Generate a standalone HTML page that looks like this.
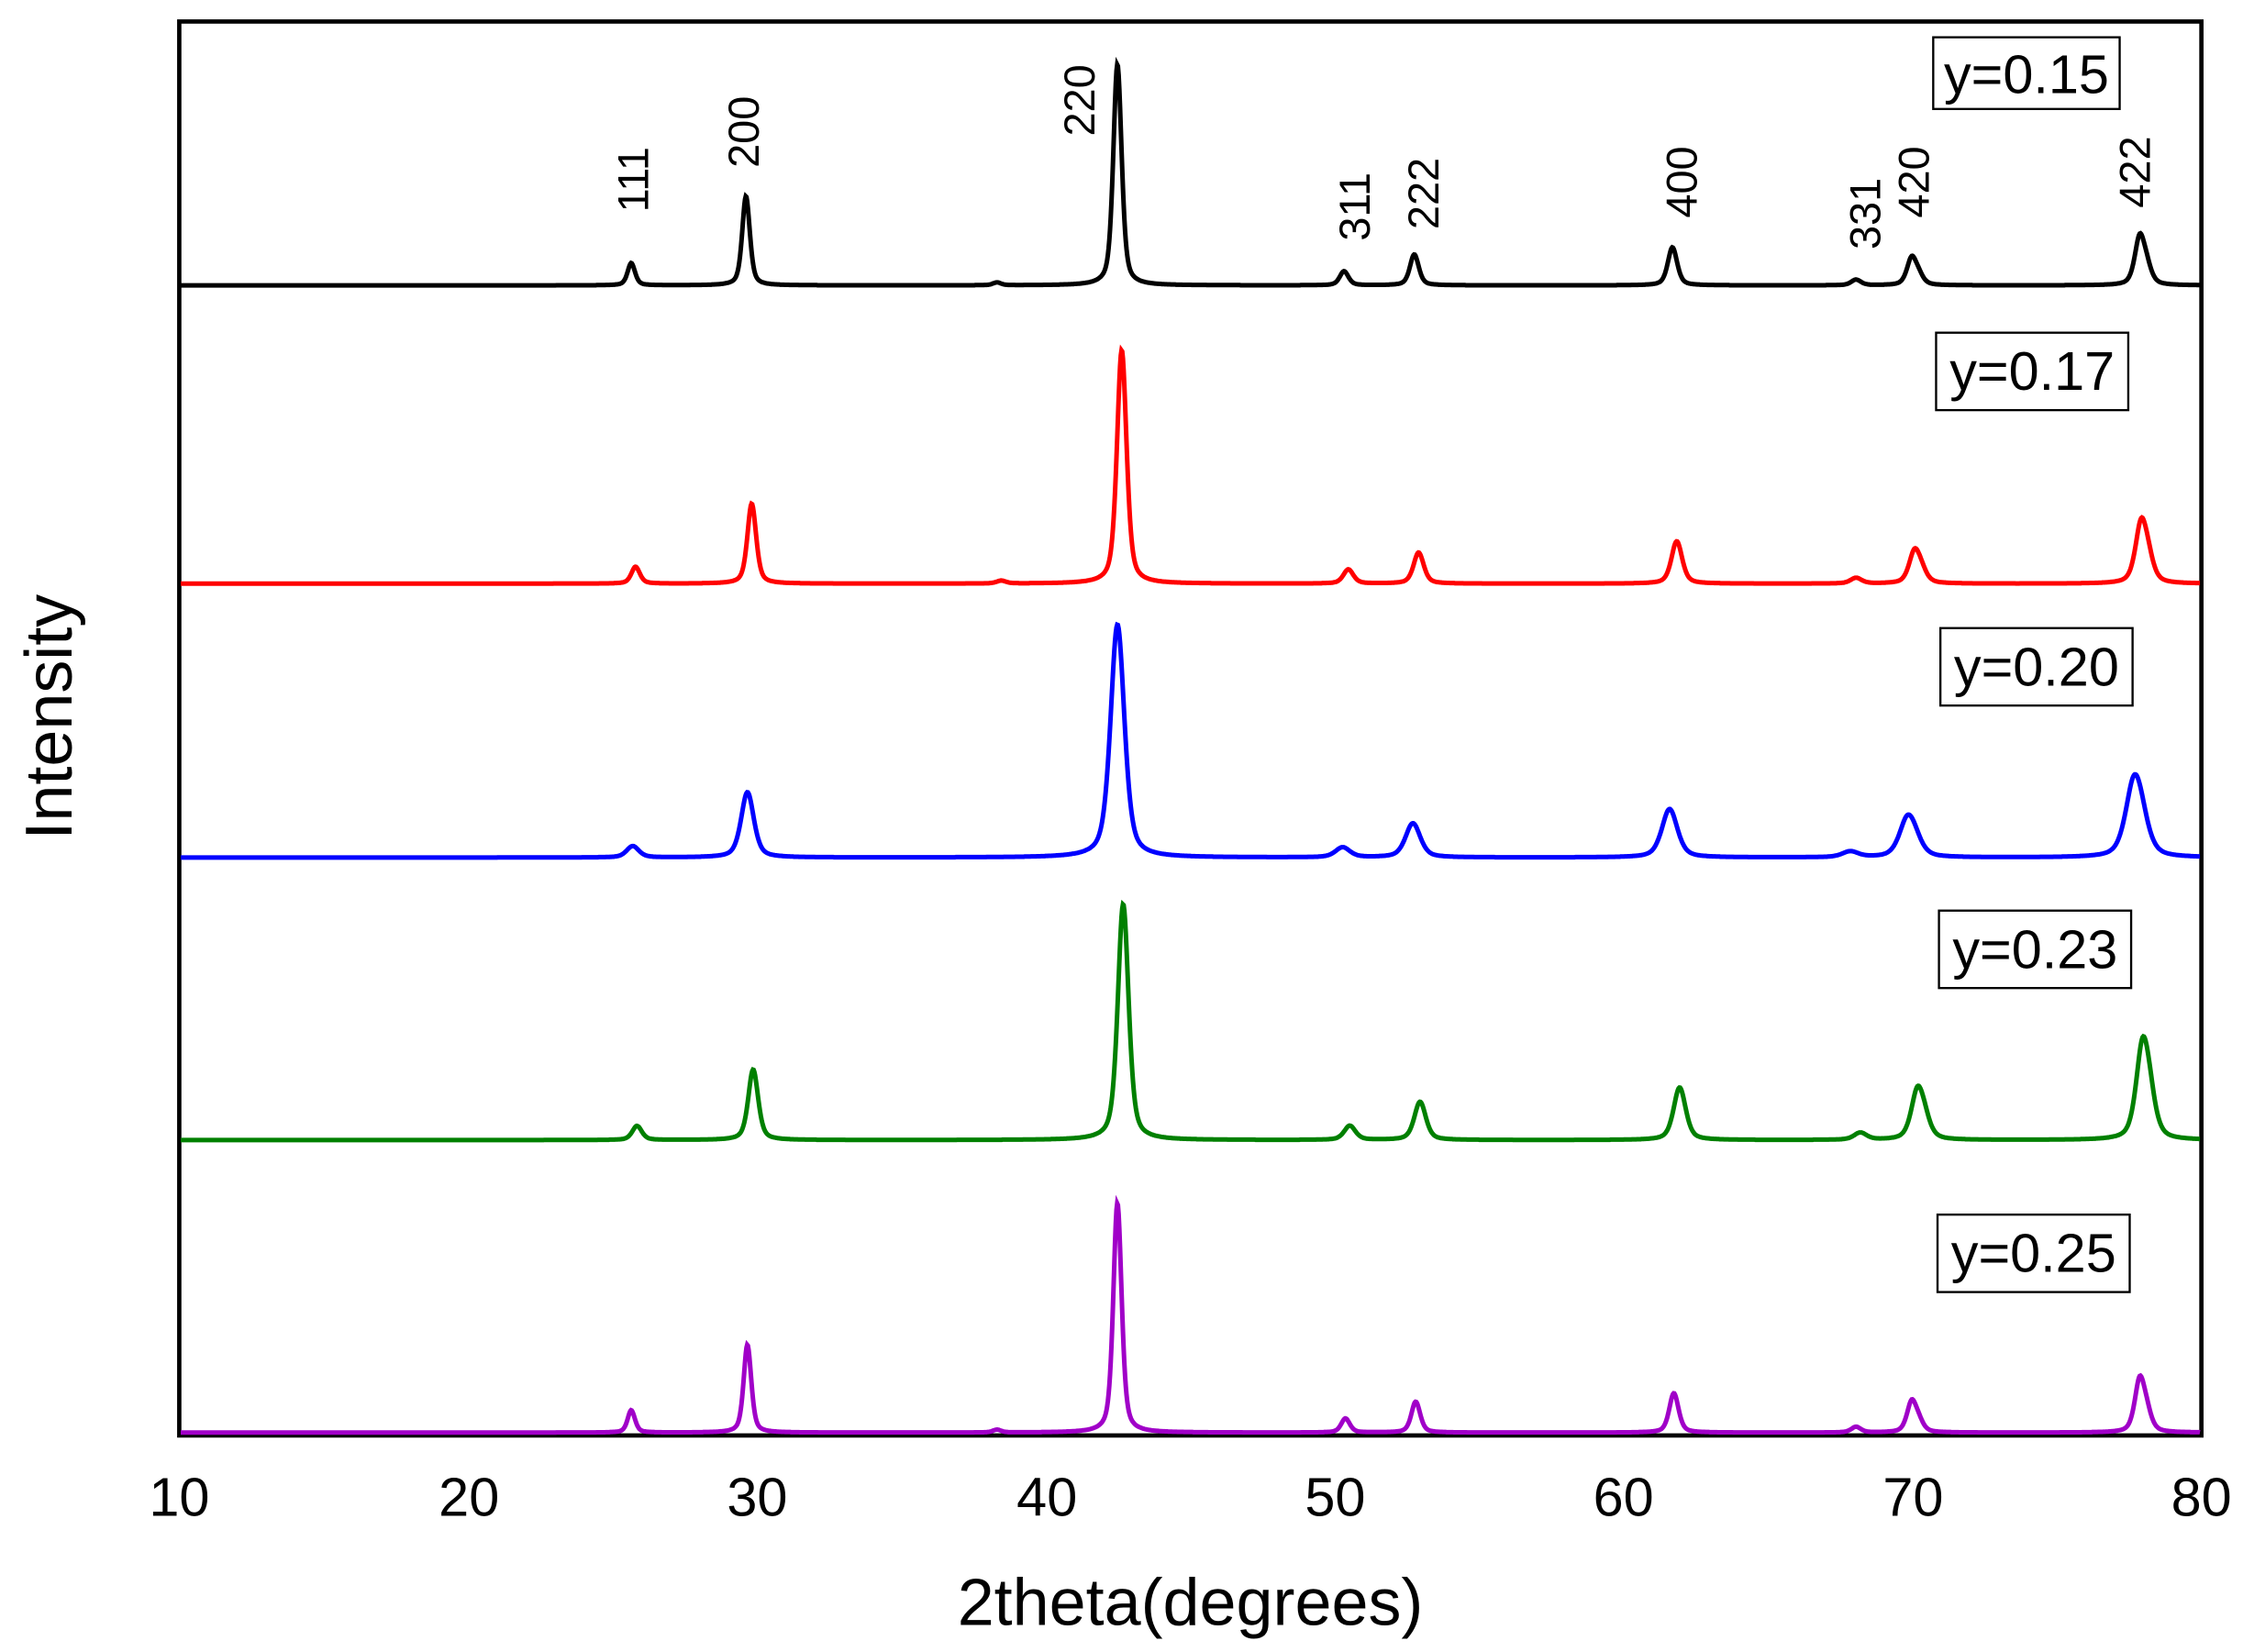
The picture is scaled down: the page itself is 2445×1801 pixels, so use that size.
<!DOCTYPE html>
<html><head><meta charset="utf-8"><style>
html,body{margin:0;padding:0;background:#fff}
svg{display:block}
text{font-family:"Liberation Sans",Arial,sans-serif}
</style></head><body>
<svg id="s" width="2445" height="1801" viewBox="0 0 1564 1152" preserveAspectRatio="none" xmlns="http://www.w3.org/2000/svg">
<rect x="125" y="15" width="1410" height="986" fill="none" stroke="#000" stroke-width="3"/>
<g id="series"></g>
<g font-size="38" text-anchor="middle">
<text x="125" y="1057">10</text><text x="327" y="1057">20</text><text x="528" y="1057">30</text><text x="730" y="1057">40</text><text x="931" y="1057">50</text><text x="1132" y="1057">60</text><text x="1334" y="1057">70</text><text x="1535" y="1057">80</text>
</g>
<text x="830" y="1133" font-size="46" text-anchor="middle">2theta(degrees)</text>
<text transform="translate(50,500) rotate(-90)" font-size="46" text-anchor="middle">Intensity</text>
<g font-size="30">
<text transform="translate(452,148) rotate(-90)">111</text>
<text transform="translate(529,117) rotate(-90)">200</text>
<text transform="translate(763,95) rotate(-90)">220</text>
<text transform="translate(955,168) rotate(-90)">311</text>
<text transform="translate(1003,160) rotate(-90)">222</text>
<text transform="translate(1183,152) rotate(-90)">400</text>
<text transform="translate(1311,174) rotate(-90)">331</text>
<text transform="translate(1345,152) rotate(-90)">420</text>
<text transform="translate(1499,145) rotate(-90)">422</text>
</g>
<g fill="none" stroke="#000" stroke-width="1.5">
<rect x="1348" y="26" width="130" height="50"/>
<rect x="1350" y="232" width="134" height="54"/>
<rect x="1353" y="438" width="134" height="54"/>
<rect x="1352" y="635" width="134" height="54"/>
<rect x="1351" y="847" width="134" height="54"/>
</g>
<g font-size="38" text-anchor="middle">
<text x="1413" y="65">y=0.15</text>
<text x="1417" y="272">y=0.17</text>
<text x="1420" y="478">y=0.20</text>
<text x="1419" y="675">y=0.23</text>
<text x="1418" y="887">y=0.25</text>
</g>
</svg>
<script>
var S=[
{c:"#000",b:199,g:0.13,p:[[440,16],[520,64],[695,2],[779,158],[937,10],[986,22],[1166,27],[1294,4],[1333,24],[1492,42]]},
{c:"#ff0000",b:407,g:0.15,p:[[443,12],[524,57],[698,2],[782,166],[940,10],[989,22],[1169,30],[1294,4],[1335,28],[1493,52]]},
{c:"#0000ff",b:598,g:0.22,p:[[441,8],[521,46],[779,164],[936,7],[985,24],[1164,34],[1290,4],[1330,32],[1488,62]]},
{c:"#008000",b:795,g:0.17,p:[[444,10],[525,50],[783,167],[941,10],[990,27],[1171,37],[1297,5],[1337,42],[1494,80]]},
{c:"#a000c8",b:999,g:0.13,p:[[440,16],[521,63],[695,2],[779,164],[938,10],[987,22],[1167,28],[1294,4],[1333,27],[1492,46]]}
];
var g=document.getElementById("series"),ns="http://www.w3.org/2000/svg";
function pv(u){return 0.5/(1+u*u)+0.5*Math.exp(-0.693*u*u);}
S.forEach(function(s){
 var d="",gp=s.g*20.14;
 for(var x=126;x<=1534;x+=0.5){
  var y=0;
  s.p.forEach(function(p){
   var w=gp*(1+(p[0]-125)/1410*0.6);
   var k=p[0]>1300?0.3:0.12, sh=p[0]>1300?5:2;
   y+=p[1]/(1+k)*(pv((x-p[0])/w)+k*pv((x-p[0]-sh)/w));
  });
  d+=(d?"L":"M")+x.toFixed(1)+","+(s.b-y).toFixed(1);
 }
 var e=document.createElementNS(ns,"path");
 e.setAttribute("d",d);e.setAttribute("fill","none");e.setAttribute("stroke",s.c);e.setAttribute("stroke-width","3.2");
 g.appendChild(e);
});
</script>
</body></html>
